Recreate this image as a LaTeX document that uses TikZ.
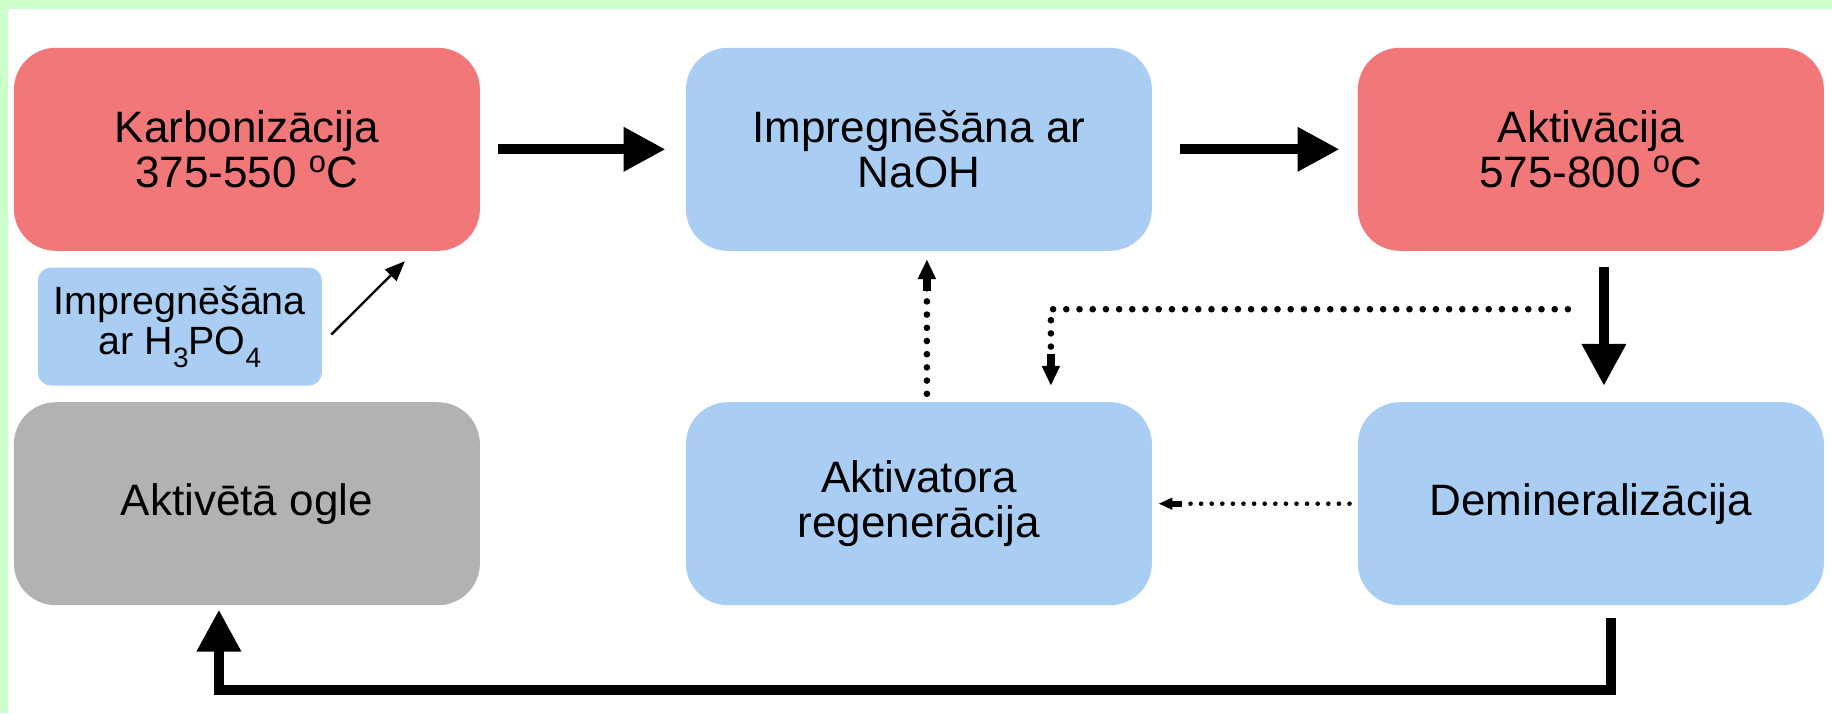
\documentclass[tikz,border=0pt]{standalone}
\usepackage{fontspec}
\setmainfont{Liberation Sans}
\usepackage{tikz}
\usetikzlibrary{calc}
\usetikzlibrary{arrows.meta,shapes}
\usetikzlibrary{matrix,positioning}
\definecolor{kilnred}{RGB}{241,119,120}
\definecolor{soakblue}{RGB}{170,206,243}
\definecolor{coalgray}{RGB}{177,178,180}
\definecolor{edgegreen}{RGB}{204,255,204}
\newcommand{\lowidx}[1]{\raisebox{-6.5pt}{\fontsize{14pt}{14pt}\selectfont #1}}

\begin{document}
\begin{tikzpicture}[
    proc/.style={rounded corners=21pt,minimum width=233pt,minimum height=101.5pt,
      align=center,inner sep=0pt,font=\fontsize{22pt}{22.5pt}\selectfont},
    hot/.style={proc,fill=kilnred},
    wet/.style={proc,fill=soakblue},
    flow/.style={line width=5pt,-{Triangle[length=21pt,width=21pt]}},
    dotflow/.style={line width=3.3pt,line cap=round,dash pattern=on 0pt off 6.6pt,
      -{Rectangle[length=6pt,width=2pt] Triangle[length=10pt,width=8.5pt]}},
    dotthin/.style={line width=2.3pt,line cap=round,dash pattern=on 0pt off 5.3pt,
      -{Rectangle[length=5pt,width=1.5pt] Triangle[length=7pt,width=5.5pt]}}
  ]
      \useasboundingbox (0,0) rectangle (916pt,-356.5pt);
      \fill[white] (0,0) rectangle (916pt,-356.5pt);
      \fill[edgegreen] (0,0) rectangle (916pt,-4.5pt);
      \fill[edgegreen] (0,0) rectangle (4pt,-356.5pt);
      \matrix(grid) [row sep=75.5pt,column sep=103pt,ampersand replacement=\&,anchor=north west,inner sep=0pt] at (6.75pt,-23.5pt) {
        \node[hot] (karb) {Karbonizācija\\375-550 \textsuperscript{o}C}; \&
        \node[wet] (naoh) {Impregnēšāna ar\\NaOH}; \&
        \node[hot] (akt) {Aktivācija\\575-800 \textsuperscript{o}C}; \\
        \node[proc,fill=coalgray] (ogle) {Aktivētā ogle}; \&
        \node[wet] (regen) {Aktivatora\\regenerācija}; \&
        \node[wet] (demin) {Demineralizācija}; \\
      };
      \node[wet,rounded corners=6.5pt,minimum width=142pt,minimum height=59pt,
        font=\fontsize{19.7pt}{20pt}\selectfont,
        below right=8pt and 12pt of karb.south west] (hthree) {Impregnēšāna\\ar H\lowidx{3}PO\lowidx{4}};
      \draw[flow,shorten <=9pt,shorten >=10pt] (karb) -- (naoh);
      \draw[flow,shorten <=14pt,shorten >=9pt] (naoh) -- (akt);
      \draw[flow,shorten <=8pt,shorten >=8pt] ([xshift=6.5pt]akt.south) -- ([xshift=6.5pt]demin.north);
      \coordinate (back) at ($(demin.south)+(10pt,-42pt)$);
      \draw[flow,line join=miter,shorten >=2pt] ([xshift=10pt,yshift=-6pt]demin.south) -- (back) -| ([xshift=-14pt]ogle.south);
      \draw[dotflow,shorten <=4pt,shorten >=4pt] ([xshift=4pt]regen.north) -- ([xshift=4pt]naoh.south);
      \coordinate (split) at ($(akt.south)+(-11.5pt,-29pt)$);
      \draw[dotflow,shorten >=8pt] (split) -| ([xshift=66pt]regen.north);
      \draw[dotthin,shorten <=4pt,shorten >=3pt] (demin) -- (regen);
      \draw[line width=1.2pt,-{Triangle[length=10pt,width=8pt]}] ([shift={(4.5pt,-4pt)}]hthree.east) -- ([shift={(79pt,-5pt)}]karb.south);
\end{tikzpicture}
\end{document}
